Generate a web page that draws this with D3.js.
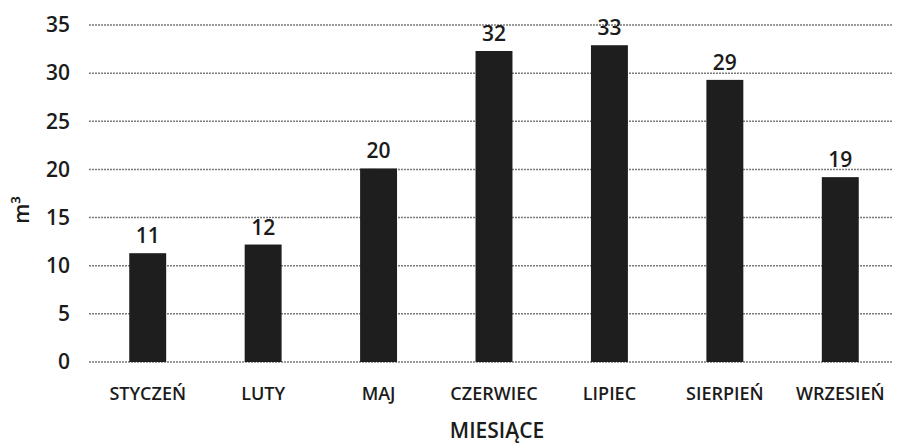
<!DOCTYPE html>
<html>
<head>
<meta charset="utf-8">
<script src="https://cdn.jsdelivr.net/npm/d3@7"></script>
<style>
  body { margin: 0; background: #fff; }
  text { font-family: "Open Sans", "Noto Sans", sans-serif; fill: #1b1b1b; font-weight: 600; }
</style>
</head>
<body>
<div id="chart"></div>
<script>
const months = ["STYCZEŃ", "LUTY", "MAJ", "CZERWIEC", "LIPIEC", "SIERPIEŃ", "WRZESIEŃ"];
const volumes = [11.3, 12.2, 20.1, 32.3, 32.9, 29.3, 19.2];
const labels = ["11", "12", "20", "32", "33", "29", "19"];
const yTicks = [0, 5, 10, 15, 20, 25, 30, 35];

(function () {
  const width = 897, height = 446;
  const margin = { top: 25, right: 0, bottom: 84, left: 90 };

  const svg = d3.select("#chart")
    .append("svg")
    .attr("width", width)
    .attr("height", height);

  const x = d3.scaleBand()
    .domain(months)
    .range([margin.left, 898])
    .paddingInner(0.68)
    .paddingOuter(0.34);

  const y = d3.scaleLinear()
    .domain([0, 35])
    .range([362, margin.top]);

  // gridlines
  svg.append("g")
    .selectAll("line")
    .data(yTicks)
    .join("line")
    .attr("x1", 89)
    .attr("x2", 893)
    .attr("y1", d => y(d))
    .attr("y2", d => y(d))
    .attr("stroke", "#7a7a7a")
    .attr("stroke-width", 1.5)
    .attr("stroke-dasharray", "2,1");

  // y tick labels
  const yAxis = svg.append("g")
    .attr("transform", "translate(75,0)")
    .call(d3.axisLeft(y).tickValues(yTicks).tickSize(0).tickPadding(5));
  yAxis.select(".domain").remove();
  yAxis.selectAll("text")
    .style("font-size", "21px")
    .style("font-family", "'Open Sans', sans-serif")
    .attr("fill", "#1b1b1b");

  // bars
  svg.selectAll(".bar")
    .data(months)
    .join("rect")
    .attr("class", "bar")
    .attr("x", d => x(d))
    .attr("width", x.bandwidth())
    .attr("y", (d, i) => y(volumes[i]))
    .attr("height", (d, i) => y(0) - y(volumes[i]))
    .attr("fill", "#1e1e1e");

  // value labels
  svg.selectAll(".val")
    .data(months)
    .join("text")
    .attr("class", "val")
    .attr("x", d => x(d) + x.bandwidth() / 2)
    .attr("y", (d, i) => y(volumes[i]) - 10)
    .attr("text-anchor", "middle")
    .style("font-size", "21px")
    .text((d, i) => labels[i]);

  // x axis labels
  const xAxis = svg.append("g")
    .attr("transform", `translate(0,${y(0)})`)
    .call(d3.axisBottom(x).tickSize(0).tickPadding(25));
  xAxis.select(".domain").remove();
  xAxis.selectAll("text")
    .style("font-size", "18px")
    .style("font-family", "'Open Sans', sans-serif")
    .attr("fill", "#1b1b1b");

  svg.append("text")
    .attr("x", 497)
    .attr("y", 438)
    .attr("text-anchor", "middle")
    .style("font-size", "21px")
    .text("MIESIĄCE");

  svg.append("text")
    .attr("transform", "translate(29,210) rotate(-90)")
    .attr("text-anchor", "middle")
    .style("font-size", "21px")
    .text("m³");
})();
</script>
</body>
</html>
